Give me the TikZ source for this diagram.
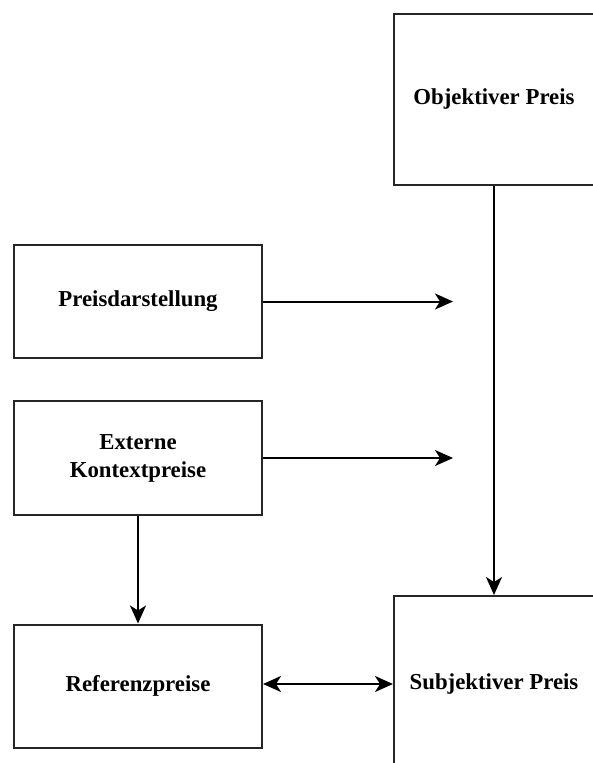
\documentclass[tikz,border=0pt]{standalone}
\usepackage{fontspec}
\setmainfont{Liberation Serif}
\usetikzlibrary{arrows.meta}
\begin{document}
\begin{tikzpicture}[x=1pt,y=-1pt,
  tip/.style={Stealth[length=18pt,width=16pt,inset=5pt]},
  box/.style={draw=black!85, line width=2pt, fill=white, inner sep=0pt,
    align=center, font=\fontsize{22.8}{28}\selectfont\bfseries},
  conn/.style={line width=2pt, -{Stealth[length=18pt,width=16pt,inset=5pt]}},
  both/.style={line width=2pt, {Stealth[length=18pt,width=16pt,inset=5pt]}-{Stealth[length=18pt,width=16pt,inset=5pt]}}]
\useasboundingbox[fill=white] (0,0) rectangle (593,763);
\begin{scope}
\clip (0,0) rectangle (593,763);
% boxes
\node[box, minimum width=200pt, minimum height=171pt] (obj) at (494,99.5) {Objektiver Preis};
\node[box, minimum width=248pt, minimum height=113pt] (pd) at (138,301.5) {Preisdarstellung};
\node[box, minimum width=248pt, minimum height=114pt] (ext) at (138,458) {Externe\\Kontextpreise};
\node[box, minimum width=248pt, minimum height=123pt] (ref) at (138,686) {Referenzpreise};
\node[box, minimum width=200pt, minimum height=176pt] (subj) at (494,684) {Subjektiver Preis};
% open ends of the two horizontal arrows
\coordinate (pdend) at (453,301.5);
\coordinate (extend) at (453,458);
% connectors
\draw[conn] (pd.east) -- (pdend);
\draw[conn] (ext.east) -- (extend);
\draw[conn] (obj.south) -- (subj.north);
\draw[conn] (ext.south) -- (ref.north);
\draw[both] (ref.east |- subj.west) -- (subj.west);
\end{scope}
\end{tikzpicture}
\end{document}
